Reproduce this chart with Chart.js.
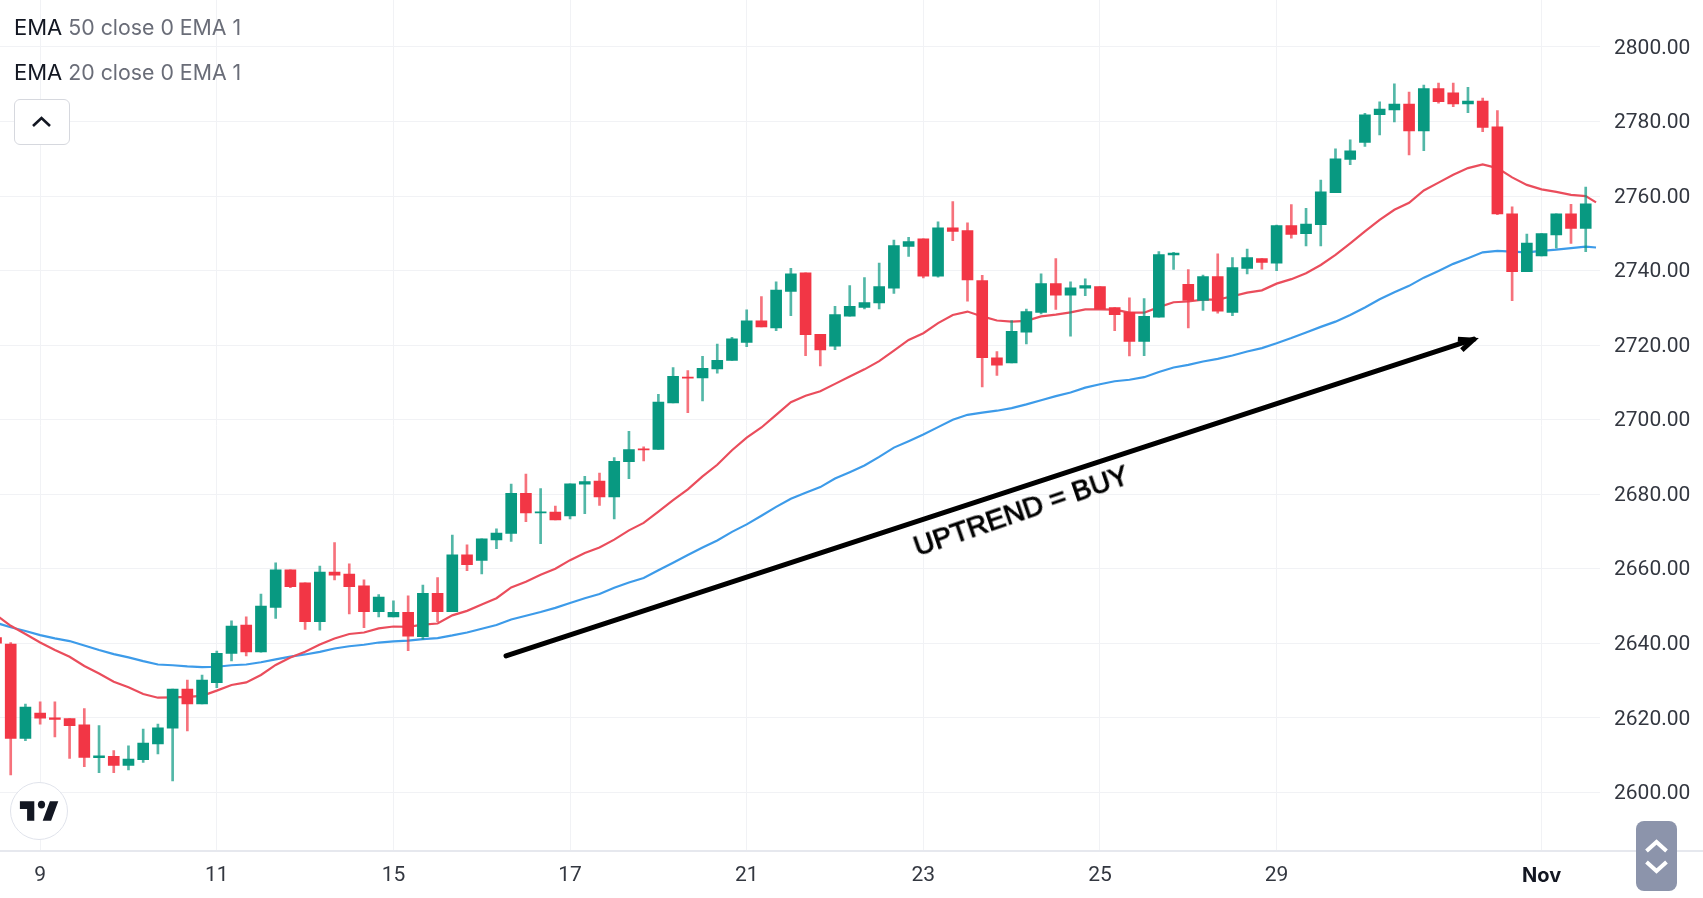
<!DOCTYPE html>
<html>
<head>
<meta charset="utf-8">
<title>EMA uptrend</title>
<script src="https://cdn.jsdelivr.net/npm/chart.js@4"></script>
<style>
    html, body { margin: 0; padding: 0; background: #fff; }
    #wrap { position: relative; width: 1703px; height: 898px; overflow: hidden; }
    canvas { position: absolute; left: 0; top: 0; }
    .legend { position: absolute; left: 14px; font: 21.3px Inter, sans-serif; color: #6a6d78; white-space: pre; line-height: 28px; }
    .legend b { font-weight: 400; font-size: 22px; color: #131722; margin-right: 6px; }
    #collapse { position: absolute; left: 14px; top: 99px; width: 56px; height: 46px; box-sizing: border-box; border: 1px solid #d6d8de; border-radius: 6px; background: #fff; }
    #axisline { position: absolute; left: 0; top: 850px; width: 1703px; height: 1.5px; background: #e6e8ee; }
    #logo { position: absolute; left: 10px; top: 782px; width: 58px; height: 58px; box-sizing: border-box; border: 1.5px solid #e0e3eb; border-radius: 50%; background: #fff; }
    #scroller { position: absolute; left: 1636px; top: 821px; width: 41px; height: 70px; border-radius: 8px; background: #8c94ab; }
    #note { position: absolute; left: 1021px; top: 511px; transform: translate(-50%, -50%) rotate(-19deg); font: 28px "Liberation Sans", Arial, sans-serif; color: #000; -webkit-text-stroke: 1px #000; white-space: pre; }
</style>
</head>
<body>
<div id="wrap">
    <canvas id="chart" width="1703" height="898"></canvas>
    <div id="axisline"></div>
    <div class="legend" style="top:13px"><b>EMA</b>50 close 0 EMA 1</div>
    <div class="legend" style="top:58px"><b>EMA</b>20 close 0 EMA 1</div>
    <div id="collapse">
        <svg width="54" height="44" viewBox="0 0 54 44"><path d="M18 26l8.5-8 8.5 8" fill="none" stroke="#131722" stroke-width="2.6"/></svg>
    </div>
    <div id="logo">
        <svg width="55" height="55" viewBox="0 0 55 55"><g transform="translate(6.5 10.5) scale(1.2 1.3)"><path d="M14 6H2v6h6v9h6V6zm14 15h-7l6-15h7l-6 15z" fill="#131722"/><circle cx="20" cy="8.5" r="3" fill="#131722"/></g></svg>
    </div>
    <div id="note">UPTREND = BUY</div>
    <div id="scroller">
        <svg width="41" height="70" viewBox="0 0 41 70"><path d="M10.5 30l10-9 10 9M10.5 41l10 9 10-9" fill="none" stroke="#fff" stroke-width="4"/></svg>
    </div>
</div>
<script>
const opens = [
    2641.5, 2639.8, 2614.5, 2621.3, 2620.0, 2619.8, 2618.1, 2609.3, 2609.7, 2607.2,
    2608.8, 2613.0, 2617.2, 2627.7, 2623.7, 2629.4, 2637.3, 2644.9, 2637.7, 2649.6,
    2659.7, 2656.2, 2645.8, 2659.1, 2658.6, 2655.4, 2648.5, 2647.1, 2648.3, 2641.8,
    2653.4, 2648.5, 2663.7, 2662.2, 2667.7, 2669.5, 2680.2, 2675.0, 2675.2, 2674.2,
    2682.7, 2683.5, 2679.3, 2688.7, 2692.2, 2692.0, 2704.5, 2711.4, 2711.2, 2713.6,
    2715.9, 2720.7, 2726.5, 2724.6, 2734.4, 2739.4, 2722.9, 2719.7, 2727.8, 2730.1,
    2731.3, 2735.3, 2746.5, 2748.5, 2738.5, 2751.5, 2750.7, 2737.3, 2716.6, 2715.2,
    2723.5, 2728.8, 2736.5, 2733.4, 2735.3, 2735.7, 2730.1, 2728.8, 2721.0, 2727.5,
    2744.2, 2736.3, 2732.0, 2738.4, 2728.8, 2740.6, 2743.2, 2742.0, 2752.1, 2749.9,
    2752.3, 2760.9, 2769.8, 2774.4, 2781.8, 2783.1, 2784.7, 2777.5, 2788.8, 2787.7,
    2784.7, 2785.5, 2778.6, 2755.2, 2739.7, 2743.9, 2749.6, 2755.2, 2751.3
];
const highs = [
    2642.0, 2640.2, 2623.7, 2624.3, 2624.3, 2619.8, 2622.5, 2617.9, 2611.2, 2612.5,
    2617.0, 2618.3, 2627.7, 2630.1, 2631.5, 2637.9, 2646.0, 2647.1, 2653.2, 2661.6,
    2659.7, 2656.2, 2660.7, 2667.0, 2661.3, 2657.0, 2653.1, 2651.4, 2652.7, 2655.6,
    2657.6, 2669.0, 2666.4, 2668.0, 2670.7, 2682.7, 2685.4, 2681.5, 2676.8, 2682.8,
    2684.8, 2685.7, 2689.8, 2696.9, 2692.7, 2706.8, 2714.0, 2713.2, 2717.0, 2720.3,
    2722.1, 2729.5, 2733.0, 2737.0, 2740.6, 2739.4, 2722.9, 2730.4, 2736.0, 2738.1,
    2742.0, 2748.2, 2748.9, 2748.5, 2753.1, 2758.5, 2752.8, 2738.7, 2718.3, 2726.6,
    2729.7, 2739.1, 2743.2, 2737.0, 2737.8, 2735.7, 2730.1, 2732.7, 2732.5, 2745.1,
    2744.9, 2740.3, 2738.8, 2744.5, 2743.5, 2745.8, 2743.2, 2752.2, 2757.7, 2756.7,
    2764.3, 2772.7, 2775.1, 2782.2, 2785.3, 2790.1, 2787.9, 2789.8, 2790.3, 2790.3,
    2789.2, 2786.3, 2782.9, 2757.1, 2749.8, 2749.9, 2755.2, 2757.8, 2762.4
];
const lows = [
    2639.0, 2604.7, 2613.9, 2618.3, 2614.9, 2609.1, 2606.9, 2605.3, 2605.3, 2606.0,
    2608.0, 2610.3, 2603.1, 2616.5, 2623.7, 2628.1, 2635.3, 2636.6, 2637.6, 2646.7,
    2654.9, 2643.7, 2643.5, 2657.0, 2647.9, 2644.2, 2647.1, 2647.1, 2638.0, 2641.1,
    2645.8, 2648.5, 2659.5, 2658.6, 2665.4, 2667.3, 2672.6, 2666.7, 2673.1, 2673.4,
    2674.8, 2677.0, 2673.4, 2684.2, 2688.9, 2692.0, 2704.5, 2701.9, 2705.0, 2712.5,
    2715.9, 2719.6, 2724.9, 2723.9, 2727.9, 2717.2, 2714.4, 2718.8, 2727.8, 2729.7,
    2729.7, 2733.9, 2743.8, 2738.0, 2738.2, 2748.0, 2731.8, 2708.8, 2711.9, 2715.2,
    2720.3, 2728.4, 2729.6, 2722.4, 2733.3, 2729.7, 2723.9, 2717.1, 2717.2, 2727.5,
    2740.3, 2724.6, 2729.3, 2728.6, 2727.9, 2739.1, 2740.4, 2740.0, 2748.7, 2746.6,
    2746.6, 2760.9, 2768.4, 2773.3, 2776.4, 2779.9, 2771.0, 2772.2, 2784.9, 2784.0,
    2782.4, 2777.3, 2755.0, 2731.9, 2739.7, 2743.9, 2746.0, 2747.3, 2745.1
];
const closes = [
    2640.0, 2614.5, 2622.9, 2619.9, 2619.6, 2617.9, 2609.4, 2609.8, 2607.2, 2608.9,
    2613.2, 2617.3, 2627.7, 2623.7, 2630.1, 2637.3, 2644.6, 2637.7, 2650.0, 2659.7,
    2655.2, 2645.8, 2659.1, 2658.3, 2655.2, 2648.5, 2652.4, 2648.3, 2641.9, 2653.4,
    2648.5, 2663.7, 2661.1, 2668.0, 2669.6, 2680.2, 2675.0, 2675.3, 2673.1, 2682.8,
    2683.4, 2679.3, 2688.8, 2692.0, 2691.9, 2704.7, 2711.6, 2711.1, 2713.8, 2715.9,
    2721.7, 2726.5, 2724.9, 2734.8, 2739.1, 2722.8, 2718.7, 2728.2, 2730.4, 2731.4,
    2735.7, 2746.7, 2747.8, 2738.5, 2751.5, 2750.5, 2737.5, 2716.6, 2714.6, 2723.7,
    2729.0, 2736.5, 2733.4, 2735.4, 2736.0, 2729.7, 2728.2, 2721.0, 2727.7, 2744.3,
    2744.7, 2732.0, 2738.4, 2729.1, 2740.8, 2743.5, 2742.2, 2752.1, 2749.7, 2752.5,
    2761.1, 2770.0, 2772.1, 2781.8, 2783.3, 2784.7, 2777.5, 2788.8, 2785.3, 2784.7,
    2785.5, 2778.4, 2755.2, 2739.7, 2747.4, 2749.9, 2755.2, 2751.3, 2757.9
];
// last value of each EMA sits just past the last candle
const ema50 = [
    2645.5, 2644.3, 2643.3, 2642.2, 2641.3, 2640.6, 2639.4, 2638.2, 2637.1, 2636.2,
    2635.2, 2634.3, 2634.1, 2633.8, 2633.6, 2633.7, 2634.1, 2634.3, 2634.9, 2635.7,
    2636.4, 2637.0, 2637.7, 2638.6, 2639.2, 2639.6, 2640.2, 2640.5, 2640.7, 2641.1,
    2641.4, 2642.1, 2642.9, 2643.9, 2644.9, 2646.4, 2647.4, 2648.4, 2649.5, 2650.8,
    2652.1, 2653.2, 2654.9, 2656.3, 2657.5, 2659.6, 2661.6, 2663.7, 2665.7, 2667.6,
    2669.9, 2671.9, 2674.2, 2676.6, 2678.8, 2680.4, 2681.9, 2684.2, 2685.9, 2687.7,
    2690.0, 2692.5, 2694.2, 2696.0, 2698.0, 2700.0, 2701.3, 2701.9, 2702.4, 2703.1,
    2704.1, 2705.2, 2706.3, 2707.3, 2708.6, 2709.5, 2710.3, 2710.7, 2711.4, 2712.8,
    2714.0, 2714.7, 2715.6, 2716.3, 2717.2, 2718.3, 2719.2, 2720.5, 2721.9, 2723.4,
    2724.9, 2726.3, 2728.1, 2730.1, 2732.3, 2734.2, 2735.9, 2738.1, 2739.9, 2741.8,
    2743.3, 2744.9, 2745.3, 2745.1, 2744.9, 2745.3, 2745.6, 2746.0, 2746.4, 2746.2
];
const ema20 = [
    2647.6, 2644.7, 2642.5, 2640.2, 2638.2, 2636.4, 2633.9, 2631.9, 2629.7, 2628.2,
    2626.4, 2625.4, 2625.5, 2625.6, 2625.9, 2627.3, 2628.8, 2629.5, 2631.5, 2634.2,
    2636.2, 2637.7, 2639.7, 2641.3, 2642.5, 2642.9, 2644.0, 2644.5, 2644.4, 2645.0,
    2645.3, 2647.5, 2648.7, 2650.4, 2652.1, 2655.0, 2656.5, 2658.4, 2660.0, 2662.3,
    2664.2, 2665.7, 2667.8, 2670.3, 2672.3, 2675.3, 2678.4, 2681.3, 2684.8, 2687.9,
    2691.8, 2695.2, 2697.9, 2701.3, 2704.7, 2706.4, 2707.6, 2709.6, 2711.6, 2713.5,
    2715.7, 2718.5, 2721.4, 2723.2, 2725.9, 2728.1, 2729.0, 2727.7, 2726.6, 2726.3,
    2726.5, 2727.7, 2728.2, 2728.8, 2729.6, 2729.6, 2729.5, 2728.7, 2728.7, 2730.2,
    2731.5, 2731.7, 2732.2, 2732.2, 2733.1, 2734.1, 2734.7, 2736.5, 2737.7, 2739.3,
    2741.5, 2744.2, 2747.3, 2750.5, 2753.6, 2756.3, 2758.2, 2761.5, 2763.6, 2765.7,
    2767.5, 2768.5, 2767.5, 2765.0, 2763.0, 2761.8, 2761.1, 2760.3, 2760.0, 2758.3
];
const emaEndIndex = 108.7;

const xTickIndex = [3, 15, 27, 39, 51, 63, 75, 87, 105];
const xTickLabels = ['9', '11', '15', '17', '21', '23', '25', '29', 'Nov'];
const yTicks = [2600, 2620, 2640, 2660, 2680, 2700, 2720, 2740, 2760, 2780, 2800];

const arrowIndex = [34.65, 100.4];
const arrowPrice = [2636.6, 2721.6];

const UP = '#089981';
const DOWN = '#f23645';
const UP_WICK = 'rgba(8, 153, 129, 0.7)';
const DOWN_WICK = 'rgba(242, 54, 69, 0.7)';

const isUp = closes.map((c, i) => c >= opens[i]);
const emaPoints = arr => arr.map((y, i) => ({ x: i < closes.length ? i : emaEndIndex, y: y }));

// arrow head drawn at the tip of the shaft dataset
const arrowHead = {
    id: 'arrowHead',
    afterDatasetsDraw(chart) {
        const tipX = chart.scales.x.getPixelForValue(arrowIndex[1]);
        const tipY = chart.scales.y.getPixelForValue(arrowPrice[1]);
        const ctx = chart.ctx;
        ctx.save();
        ctx.strokeStyle = '#000';
        ctx.lineWidth = 5;
        ctx.lineJoin = 'miter';
        ctx.beginPath();
        ctx.moveTo(tipX - 16, tipY);
        ctx.lineTo(tipX - 1, tipY + 1);
        ctx.lineTo(tipX - 12, tipY + 11);
        ctx.stroke();
        ctx.restore();
    }
};

new Chart(document.getElementById('chart'), {
    type: 'bar',
    data: {
        datasets: [
            {
                type: 'line',
                data: emaPoints(ema50),
                borderColor: '#3d9be9',
                borderWidth: 2.2,
                pointRadius: 0,
                tension: 0,
                order: 4
            },
            {
                type: 'line',
                data: emaPoints(ema20),
                borderColor: '#ea4d5c',
                borderWidth: 2.2,
                pointRadius: 0,
                tension: 0,
                order: 3
            },
            {
                data: closes.map((c, i) => ({ x: i, y: [lows[i], highs[i]] })),
                backgroundColor: isUp.map(u => u ? UP_WICK : DOWN_WICK),
                barThickness: 2,
                grouped: false,
                order: 2
            },
            {
                data: closes.map((c, i) => ({ x: i, y: [opens[i], c] })),
                backgroundColor: isUp.map(u => u ? UP : DOWN),
                barThickness: 11,
                grouped: false,
                order: 1
            },
            {
                type: 'line',
                data: arrowIndex.map((x, i) => ({ x: x, y: arrowPrice[i] })),
                borderColor: '#000',
                borderWidth: 5,
                borderCapStyle: 'round',
                pointRadius: 0,
                order: 0
            }
        ]
    },
    options: {
        responsive: false,
        animation: false,
        events: [],
        layout: { padding: 0 },
        plugins: {
            legend: { display: false },
            tooltip: { enabled: false }
        },
        scales: {
            x: {
                type: 'linear',
                offset: false,
                min: 0.272,
                max: 108.97,
                afterBuildTicks: scale => {
                    scale.ticks = xTickIndex.map(v => ({ value: v }));
                },
                afterFit: scale => {
                    scale.height = 47.5;
                    scale.paddingLeft = 0;
                    scale.paddingRight = 0;
                },
                grid: { color: '#f1f2f5', lineWidth: 1, drawTicks: false, offset: false },
                border: { display: false },
                ticks: {
                    autoSkip: false,
                    maxRotation: 0,
                    padding: 13,
                    color: ctx => ctx.index === 8 ? '#131722' : '#333740',
                    font: ctx => ctx.index === 8
                        ? { family: 'Inter', size: 20, weight: '700' }
                        : { family: 'Roboto', size: 21 },
                    callback: (value, i) => xTickLabels[i]
                }
            },
            y: {
                position: 'right',
                min: 2584.4,
                max: 2812.6,
                afterBuildTicks: scale => {
                    scale.ticks = yTicks.map(v => ({ value: v }));
                },
                afterFit: scale => {
                    scale.width = 103;
                    scale.paddingTop = 0;
                    scale.paddingBottom = 0;
                },
                grid: { color: '#f1f2f5', lineWidth: 1, drawTicks: false },
                border: { display: false },
                ticks: {
                    padding: 14,
                    labelOffset: 1.5,
                    color: '#333740',
                    font: { family: 'Roboto', size: 21 },
                    callback: value => value.toFixed(2)
                }
            }
        }
    },
    plugins: [arrowHead]
});
</script>
</body>
</html>
